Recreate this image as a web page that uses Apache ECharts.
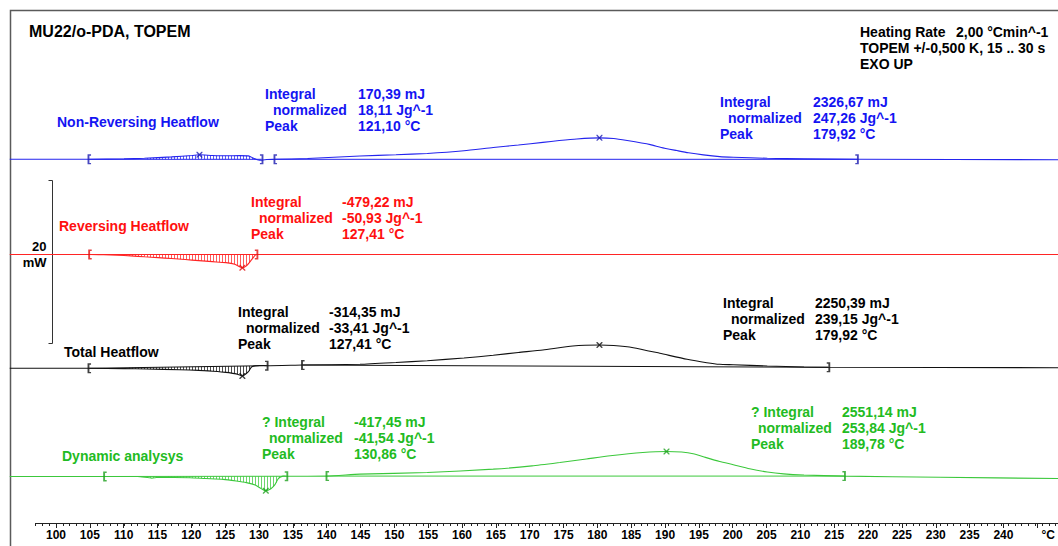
<!DOCTYPE html>
<html><head><meta charset="utf-8">
<script src="https://cdn.jsdelivr.net/npm/echarts@6/dist/echarts.min.js"></script>
<style>html,body{margin:0;padding:0;background:#fff;}#c{width:1058px;height:546px;}</style>
</head><body><div id="c"></div>
<script>
// ---------- DATA (temperature in °C, heat flow in mW relative to each trace's baseline, exo up) ----------
const nonRevT  = [93.2,105,110,113,117,120,121.1,123,125,127,128.3,129,129.6,130.3,131,132.2,137,144.7,150,154.6,160,164.3,168,171.6,174,176.6,179.92,182,184,187.4,189,191.3,193,195.2,197.6,199.6,204.6,210,218,247.4];
const nonRevHF = [0,0,0.05,0.12,0.3,0.47,0.55,0.47,0.43,0.45,0.42,0.15,-0.05,-0.12,-0.02,0,0.1,0.4,0.55,0.72,1.05,1.45,1.75,2.08,2.3,2.5,2.63,2.55,2.3,1.8,1.45,1.07,0.8,0.54,0.33,0.25,0.12,0.05,0,-0.05];

const revT  = [93.2,105,107,109,111,113,115,117,119,121,123,125,126.3,127.41,128,128.8,129.3,129.5,247.4];
const revHF = [0,0,-0.03,-0.08,-0.17,-0.28,-0.38,-0.5,-0.62,-0.75,-0.88,-1.0,-1.2,-1.63,-1.4,-0.6,-0.08,0,0];

const totT  = [93.2,104.9,110,113.3,118.2,121,123.1,125,126,126.8,127.41,128.3,128.8,130,131,136.3,144.7,150,154.6,160,164.3,168,171.6,176,179.92,182,184.9,188.8,192.8,195.7,197.6,199.6,204.6,210,213.6,247.4];
const totHF = [0,0,-0.04,-0.09,-0.17,-0.25,-0.37,-0.5,-0.62,-0.75,-0.95,-0.42,0.2,0.35,0.32,0.4,0.49,0.71,0.93,1.26,1.6,1.94,2.25,2.74,2.86,2.8,2.53,1.84,1.1,0.69,0.49,0.44,0.28,0.16,0.12,0.07];

const dynT  = [93.2,107.2,112,114.1,115,119.7,122,124.6,126.5,128,129.3,130.86,131.6,132.2,132.7,133.4,133.9,139.9,144.7,154.6,164.3,170,174.1,178,181.5,186.3,189.78,192,193.7,195.5,197.6,199.6,202,204.6,207,210,215.9,230,247.4];
const dynHF = [0,0,0,-0.2,-0.1,-0.15,-0.25,-0.35,-0.55,-0.75,-1.05,-1.75,-1.5,-1.0,-0.25,0.05,0.03,0.05,0.29,0.49,0.9,1.3,1.72,2.15,2.54,2.94,3.07,3.0,2.8,2.35,1.85,1.45,0.95,0.55,0.32,0.18,0.05,-0.1,-0.25];

// integration limits: [startT, startHF, endT, endHF]
const nonRevLimits = [[104.9,0,130.25,0],[132.25,0,217.8,0]];
const revLimits    = [[105,0,129.5,0]];
const totLimits    = [[104.9,0,131,0.32],[136.3,0.4,213.6,0.12]];
const dynLimits    = [[107.2,0,133.9,0.03],[139.9,0.05,215.9,0.05]];

// peak temperatures
const nonRevPeaks = [121.10,179.92];
const revPeaks    = [127.41];
const totPeaks    = [127.41,179.92];
const dynPeaks    = [130.86,189.78];

// x axis tick labels (°C)
const tickLabels = [100,105,110,115,120,125,130,135,140,145,150,155,160,165,170,175,180,185,190,195,200,205,210,215,220,225,230,235,240];
const unitLabel = '°C';

// texts
const traceNames = ['Non-Reversing Heatflow','Reversing Heatflow','Total Heatflow','Dynamic analysys'];
const resultKeys = [['Integral','normalized','Peak'],['? Integral','normalized','Peak']];
const nonRevRes = [['170,39 mJ','18,11 Jg^-1','121,10 °C'],['2326,67 mJ','247,26 Jg^-1','179,92 °C']];
const revRes    = [['-479,22 mJ','-50,93 Jg^-1','127,41 °C']];
const totRes    = [['-314,35 mJ','-33,41 Jg^-1','127,41 °C'],['2250,39 mJ','239,15 Jg^-1','179,92 °C']];
const dynRes    = [['-417,45 mJ','-41,54 Jg^-1','130,86 °C'],['2551,14 mJ','253,84 Jg^-1','189,78 °C']];
const titleText = 'MU22/o-PDA, TOPEM';
const infoLines = [['Heating Rate','2,00 °Cmin^-1'],['TOPEM +/-0,500 K, 15 .. 30 s',''],['EXO UP','']];
const scaleText = ['20','mW'];

// ---------- LAYOUT / STYLE ----------
const FONT = '"Liberation Sans", Arial, Helvetica, sans-serif';
const PX_PER_MW = 8.15;
const YR = 5;
const XMIN = 93.24, XMAX = 247.35;
const traces = [
  {T:nonRevT, HF:nonRevHF, lim:nonRevLimits, peaks:nonRevPeaks, base:159.3, line:'#2424ee', mark:'#1a1ab0', text:'#1414f2'},
  {T:revT,    HF:revHF,    lim:revLimits,    peaks:revPeaks,    base:254.5, line:'#ff2424', mark:'#e01010', text:'#ff1010'},
  {T:totT,    HF:totHF,    lim:totLimits,    peaks:totPeaks,    base:368.3, line:'#111111', mark:'#111111', text:'#000000'},
  {T:dynT,    HF:dynHF,    lim:dynLimits,    peaks:dynPeaks,    base:476.5, line:'#3cc83c', mark:'#1ea01e', text:'#22bb22'}
];

const grid = [], xAxis = [], yAxis = [], series = [];
const BR_L = 'path://M0,0 L3,0 L3,1.4 L1.6,1.4 L1.6,8.6 L3,8.6 L3,10 L0,10 Z';
const BR_R = 'path://M0,0 L3,0 L3,10 L0,10 L0,8.6 L1.4,8.6 L1.4,1.4 L0,1.4 Z';
const XSYM = 'path://M0,0 L1.6,0 L5,3.4 L8.4,0 L10,0 L10,1.6 L6.6,5 L10,8.4 L10,10 L8.4,10 L5,6.6 L1.6,10 L0,10 L0,8.4 L3.4,5 L0,1.6 Z';

traces.forEach((tr, k) => {
  grid.push({left:10, right:0, top: tr.base - YR*PX_PER_MW, height: 2*YR*PX_PER_MW});
  xAxis.push({type:'value', gridIndex:k, min:XMIN, max:XMAX, show:false});
  yAxis.push({type:'value', gridIndex:k, min:-YR, max:YR, show:false});
  const pts = tr.T.map((t,i)=>[t, tr.HF[i]]);
  // integration baselines
  tr.lim.forEach(l => {
    series.push({type:'line', xAxisIndex:k, yAxisIndex:k, data:[[l[0],l[1]],[l[2],l[3]]], symbol:'none', silent:true,
      lineStyle:{color:tr.line, width:1}, z:2});
  });
  // hatch for first (small) peak
  const seg = tr.lim[0];
  const hatchData = [];
  for (let i=0;i<pts.length-1;i++){
    if (pts[i][0] >= seg[0] && pts[i+1][0] <= seg[2]) hatchData.push([pts[i][0],pts[i][1],pts[i+1][0],pts[i+1][1]]);
  }
  series.push({type:'custom', xAxisIndex:k, yAxisIndex:k, data:hatchData, silent:true, z:1,
    encode:{x:[0,2], y:[1,3]},
    renderItem:(params, api) => {
      const t0=api.value(0), v0=api.value(1), t1=api.value(2), v1=api.value(3);
      const p0=api.coord([t0,v0]), p1=api.coord([t1,v1]);
      const base = t => seg[1] + (seg[3]-seg[1])*(t-seg[0])/(seg[2]-seg[0]);
      const children=[]; const step=3;
      for (let x=Math.ceil(p0[0]/step)*step; x<p1[0]; x+=step){
        const f=(x-p0[0])/(p1[0]-p0[0]);
        const yc=p0[1]+f*(p1[1]-p0[1]);
        const t=t0+f*(t1-t0);
        const yb=api.coord([t,base(t)])[1];
        if (Math.abs(yc-yb)<1) continue;
        children.push({type:'line', shape:{x1:x+0.5,y1:yc,x2:x+0.5,y2:yb}, style:{stroke:tr.line, lineWidth:1, opacity:0.75}});
      }
      return {type:'group', children};
    }});
  // curve
  series.push({type:'line', xAxisIndex:k, yAxisIndex:k, data:pts, symbol:'none', smooth:0.2, silent:true,
    lineStyle:{color:tr.line, width:1.1}, z:3});
  // integration limit markers
  series.push({type:'scatter', xAxisIndex:k, yAxisIndex:k, symbol:BR_L, symbolSize:[3.5,10], silent:true, z:4,
    itemStyle:{color:tr.mark}, data:tr.lim.map(l=>[l[0],l[1]])});
  series.push({type:'scatter', xAxisIndex:k, yAxisIndex:k, symbol:BR_R, symbolSize:[3.5,10], silent:true, z:4,
    itemStyle:{color:tr.mark}, data:tr.lim.map(l=>[l[2],l[3]])});
  // peak markers
  series.push({type:'scatter', xAxisIndex:k, yAxisIndex:k, symbol:XSYM, symbolSize:6, silent:true, z:4,
    itemStyle:{color:tr.mark}, data:tr.peaks.map(p=>[p, tr.HF[tr.T.indexOf(p)]])});
});

// temperature axis: minor ticks (every 1 °C) and major ticks with labels (every 5 °C)
const X0 = 56, PX_PER_C = 6.8;
grid.push({left: X0 + PX_PER_C*(97-100), right:0, top:522, height:1});
xAxis.push({type:'value', gridIndex:4, min:97, max:XMAX, interval:1, position:'bottom',
  axisLine:{show:true, lineStyle:{color:'#222', width:1}},
  axisTick:{show:true, length:3, lineStyle:{color:'#222', width:1}},
  axisLabel:{show:false}, splitLine:{show:false}});
yAxis.push({type:'value', gridIndex:4, show:false});
grid.push({left: X0, right:0, top:522, height:1});
xAxis.push({type:'value', gridIndex:5, min:tickLabels[0], max:XMAX, interval:5, position:'bottom',
  axisLine:{show:false},
  axisTick:{show:true, length:5, lineStyle:{color:'#222', width:1}},
  axisLabel:{show:true, margin:6, color:'#000', fontSize:12, fontWeight:'bold', fontFamily:FONT, showMaxLabel:false,
    formatter:v => (v===245 ? '{u|'+unitLabel+'}' : (tickLabels.indexOf(v)>=0 ? String(v) : '')),
    rich:{u:{fontSize:12, fontWeight:'bold', fontFamily:FONT, color:'#000', padding:[0,0,0,22]}}},
  splitLine:{show:false}});
yAxis.push({type:'value', gridIndex:5, show:false});

// ---------- TEXTS ----------
const graphics = [];
function txt(s, x, y, color, size, align){
  graphics.push({type:'text', x, y, silent:true, style:{text:s, fill:color, font:'bold '+size+'px '+FONT,
    align:align||'left', verticalAlign:'middle', textAlign:align||'left', textVerticalAlign:'middle'}});
}
txt(titleText, 29, 31.5, '#000', 16);
txt(infoLines[0][0], 860, 32, '#000', 14); txt(infoLines[0][1], 956, 32, '#000', 14);
txt(infoLines[1][0], 860, 48, '#000', 14);
txt(infoLines[2][0], 860, 64, '#000', 14);
const namePos = [[57,121.5],[59,225.5],[64,351.5],[62,455.5]];
traces.forEach((tr,k)=>txt(traceNames[k], namePos[k][0], namePos[k][1], tr.text, 14));
// result blocks: [trace, block, keyset, keyX, valX, y0]
const blocks = [
  [0, nonRevRes[0], 0, 265, 358, 94],
  [0, nonRevRes[1], 0, 720, 813, 101.5],
  [1, revRes[0],    0, 251, 342, 201.5],
  [2, totRes[0],    0, 238, 329, 312],
  [2, totRes[1],    0, 723, 815, 302.5],
  [3, dynRes[0],    1, 262, 354, 422],
  [3, dynRes[1],    1, 751, 842, 411.5]
];
blocks.forEach(b=>{
  const c = traces[b[0]].text;
  const keys = resultKeys[b[2]];
  const indent = b[2]===1 ? 7 : 8;
  keys.forEach((kk,i)=>{
    txt(kk, b[3] + (i===1?indent:0), b[5]+i*16.2, c, 14);
    txt(b[1][i], b[4], b[5]+i*16.2, c, 14);
  });
});
txt(scaleText[0], 46.5, 246.5, '#000', 13, 'right');
txt(scaleText[1], 46.5, 262, '#000', 13, 'right');
// frame & scale bar
graphics.push({type:'polyline', silent:true, shape:{points:[[10.5,546],[10.5,10.5],[1058,10.5]]}, style:{stroke:'#5a5a5a', lineWidth:1.5, fill:null}});
graphics.push({type:'polyline', silent:true, shape:{points:[[48.5,180.5],[52.5,180.5],[52.5,343.5],[48.5,343.5]]}, style:{stroke:'#333', lineWidth:1, fill:null}});

const chart = echarts.init(document.getElementById('c'), null, {renderer:'svg'});
chart.setOption({animation:false, backgroundColor:'#fff', grid, xAxis, yAxis, series, graphic:{elements:graphics}});
</script></body></html>
